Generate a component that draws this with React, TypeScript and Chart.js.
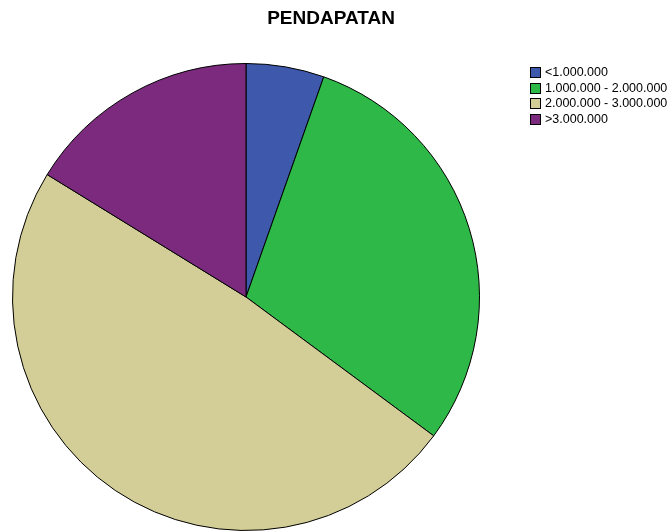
import React, { useEffect, useRef } from "react";
import { Chart, registerables } from "chart.js";

Chart.register(...registerables);

const titleText = "PENDAPATAN";
const categories = ["<1.000.000", "1.000.000 - 2.000.000", "2.000.000 - 3.000.000", ">3.000.000"];
const counts = [2, 11, 18, 6];
const colors = ["#3E58AC", "#2EB848", "#D3CE97", "#7B2A7E"];

const overlayPlugin = {
  id: "overlay",
  afterDraw(chart: any) {
    const ctx = chart.ctx;
    ctx.save();
    ctx.fillStyle = "#000";
    ctx.font = "bold 19px 'Liberation Sans', Arial, sans-serif";
    ctx.textAlign = "center";
    ctx.textBaseline = "middle";
    ctx.fillText(titleText, 331, 19);
    ctx.font = "12.5px 'Liberation Sans', Arial, sans-serif";
    ctx.textAlign = "left";
    categories.forEach((c, i) => {
      const y = Math.round(72 + i * 15.5);
      ctx.fillStyle = colors[i];
      ctx.fillRect(530.5, y - 4.5, 10, 10);
      ctx.strokeStyle = "#000";
      ctx.lineWidth = 1;
      ctx.strokeRect(530.5, y - 4.5, 10, 10);
      ctx.fillStyle = "#000";
      ctx.fillText(c, 545, y + 1);
    });
    ctx.restore();
  },
};

export default function App() {
  const ref = useRef<HTMLCanvasElement | null>(null);
  useEffect(() => {
    document.body.style.margin = "0";
    const chart = new Chart(ref.current as HTMLCanvasElement, {
      type: "pie",
      data: {
        labels: categories,
        datasets: [
          {
            data: counts,
            backgroundColor: colors,
            borderColor: "#000",
            borderWidth: 1,
          },
        ],
      },
      options: {
        animation: false,
        responsive: false,
        layout: { padding: { left: 12, right: 191, top: 63, bottom: 0 } },
        plugins: {
          legend: { display: false },
          title: { display: false },
          tooltip: { enabled: false },
        },
      },
      plugins: [overlayPlugin],
    });
    return () => chart.destroy();
  }, []);
  return (
    <div style={{ position: "absolute", left: 0, top: 0, width: 671, height: 531, background: "#fff" }}>
      <canvas ref={ref} width={671} height={531} />
    </div>
  );
}
